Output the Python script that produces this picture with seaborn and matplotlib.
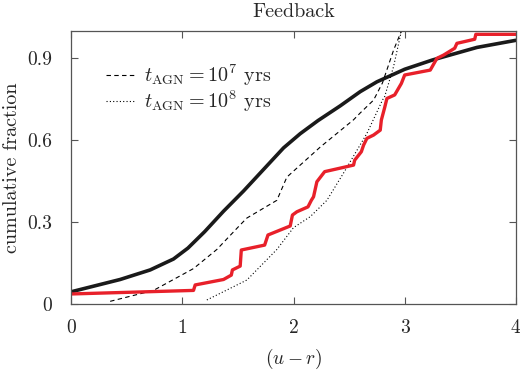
import matplotlib
matplotlib.use("Agg")
import matplotlib.pyplot as plt
import seaborn as sns
import pandas as pd

# curvas
x_total = [0.0, 0.44, 0.71, 0.92, 1.05, 1.2, 1.37, 1.55, 1.73, 1.91, 2.06, 2.22, 2.42, 2.6, 2.75,
           3.0, 3.25, 3.65, 4.0]
y_total = [0.045, 0.09, 0.125, 0.165, 0.205, 0.265, 0.34, 0.414, 0.493, 0.572, 0.624, 0.672, 0.726, 0.778, 0.814,
           0.86, 0.894, 0.94, 0.966]

x_t7 = [0.35, 0.74, 1.1, 1.31, 1.52, 1.58, 1.85, 1.94, 2.24, 2.54, 2.6, 2.72, 2.8, 2.9, 2.97]
y_t7 = [0.01, 0.05, 0.13, 0.2, 0.29, 0.315, 0.38, 0.465, 0.575, 0.675, 0.70, 0.747, 0.81, 0.93, 1.0]

x_t8 = [1.22, 1.58, 1.85, 2.0, 2.15, 2.3, 2.45, 2.66, 2.8, 2.82, 2.9, 2.97]
y_t8 = [0.015, 0.088, 0.2, 0.28, 0.32, 0.38, 0.48, 0.625, 0.747, 0.76, 0.87, 1.0]

x_obs = [0.0, 1.1, 1.115, 1.37, 1.44, 1.45, 1.52, 1.53, 1.74, 1.77, 1.97, 1.99, 2.03, 2.13,
         2.16, 2.18, 2.21, 2.28, 2.54, 2.55, 2.61, 2.63, 2.66, 2.72, 2.78, 2.79, 2.82, 2.84,
         2.91, 2.97, 3.0, 3.23, 3.29, 3.35, 3.45, 3.47, 3.63, 3.64, 4.0]
y_obs = [0.037, 0.05, 0.07, 0.09, 0.106, 0.125, 0.139, 0.198, 0.216, 0.253, 0.286, 0.326, 0.338, 0.356,
         0.38, 0.393, 0.448, 0.485, 0.509, 0.527, 0.558, 0.582, 0.607, 0.619, 0.637, 0.674, 0.72, 0.753,
         0.766, 0.808, 0.839, 0.857, 0.9, 0.912, 0.937, 0.955, 0.97, 0.988, 0.988]

sns.set_style("ticks")
plt.rcParams['font.family'] = 'serif'
plt.rcParams['font.serif'] = ['cmr10', 'DejaVu Serif']
plt.rcParams['mathtext.fontset'] = 'cm'
plt.rcParams['axes.unicode_minus'] = False
plt.rcParams['axes.formatter.use_mathtext'] = True

fig, ax = plt.subplots(figsize=(5.2, 3.74), dpi=100)
fig.subplots_adjust(left=0.137, right=0.992, top=0.917, bottom=0.187)

df_total = pd.DataFrame({'x': x_total, 'y': y_total})
df_t7 = pd.DataFrame({'x': x_t7, 'y': y_t7})
df_t8 = pd.DataFrame({'x': x_t8, 'y': y_t8})
df_obs = pd.DataFrame({'x': x_obs, 'y': y_obs})

sns.lineplot(data=df_total, x='x', y='y', color='#1a1a1a', linewidth=2.6, estimator=None, sort=False, ax=ax)
sns.lineplot(data=df_t7, x='x', y='y', color='black', linewidth=0.8, linestyle=(0, (4, 3)),
             estimator=None, sort=False, ax=ax, label=r'$t_{\rm AGN} = 10^7$ yrs')
sns.lineplot(data=df_t8, x='x', y='y', color='black', linewidth=0.8, linestyle=(0, (1, 2)),
             estimator=None, sort=False, ax=ax, label=r'$t_{\rm AGN} = 10^8$ yrs')
sns.lineplot(data=df_obs, x='x', y='y', color='#e8202a', linewidth=2.4, estimator=None, sort=False, ax=ax)

ax.set_xlim(0, 4)
ax.set_ylim(0, 1)
ax.set_xticks([0, 1, 2, 3, 4])
ax.set_yticks([0, 0.3, 0.6, 0.9])
ax.set_xticklabels(['0', '1', '2', '3', '4'])
ax.set_yticklabels(['0', '0.3', '0.6', '0.9'])
ax.tick_params(direction='in', top=True, right=True, length=5, width=0.8, color='#555555', labelsize=14)
ax.tick_params(axis='x', pad=11)
ax.tick_params(axis='y', pad=14)
for s in ax.spines.values():
    s.set_color('#555555')
    s.set_linewidth(0.9)

ax.set_xlabel(r'$(u-r)$', fontsize=14, labelpad=7)
ax.set_ylabel('cumulative fraction', fontsize=14.5, labelpad=4)
ax.set_title('Feedback', fontsize=14.5, pad=10)

leg = ax.legend(loc='upper left', frameon=False, fontsize=14.5, handlelength=1.5, handletextpad=0.4,
                bbox_to_anchor=(0.06, 0.915), borderaxespad=0, labelspacing=0.05)

fig.savefig('out.png', dpi=100)
